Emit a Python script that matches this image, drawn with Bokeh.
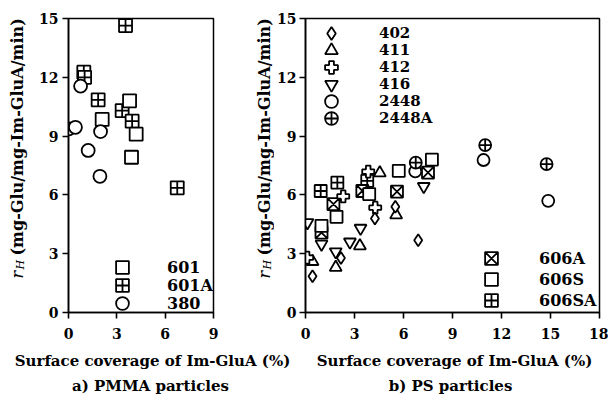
import math
from bokeh.plotting import figure
from bokeh.models import Range1d, Label, Legend, LegendItem, FixedTicker
from bokeh.layouts import row, column
from bokeh.embed import file_html
from bokeh.resources import INLINE

# ---------------- data ----------------
# a) PMMA particles
pmma_601_x = [2.09, 3.79, 4.20, 3.91]
pmma_601_y = [9.85, 10.80, 9.10, 7.92]
pmma_601A_x = [3.54, 0.95, 1.00, 1.84, 3.33, 3.95, 6.75]
pmma_601A_y = [14.64, 12.26, 12.00, 10.85, 10.30, 9.76, 6.36]
pmma_380_x = [0.02, 0.43, 0.75, 1.22, 1.99, 1.95]
pmma_380_y = [9.37, 9.45, 11.55, 8.27, 9.23, 6.95]

# b) PS particles
ps_402_x = [0.43, 2.17, 4.25, 5.50, 6.90]
ps_402_y = [1.85, 2.78, 4.80, 5.40, 3.69]
ps_411_x = [0.43, 1.85, 3.33, 4.55, 5.55]
ps_411_y = [2.60, 2.30, 3.40, 7.12, 4.98]
ps_412_x = [0.10, 2.31, 3.84, 4.27]
ps_412_y = [2.80, 5.92, 7.19, 5.35]
ps_416_x = [0.12, 0.98, 1.85, 2.72, 3.37, 7.24]
ps_416_y = [4.59, 3.49, 3.10, 3.60, 4.30, 6.43]
ps_2448_x = [6.72, 10.90, 14.86]
ps_2448_y = [7.20, 7.78, 5.70]
ps_2448A_x = [6.75, 11.00, 14.76]
ps_2448A_y = [7.65, 8.54, 7.57]
ps_606A_x = [0.98, 1.71, 3.48, 5.60, 7.50]
ps_606A_y = [4.08, 5.53, 6.20, 6.17, 7.14]
ps_606S_x = [0.98, 1.90, 3.90, 5.71, 7.74]
ps_606S_y = [4.42, 4.88, 6.04, 7.23, 7.80]
ps_606SA_x = [0.93, 1.95, 3.78]
ps_606SA_y = [6.20, 6.63, 6.72]

y_ticks = [0, 3, 6, 9, 12, 15]
pmma_x_ticks = [0, 3, 6, 9]
ps_x_ticks = [0, 3, 6, 9, 12, 15, 18]

x_title = "Surface coverage of Im-GluA (%)"
y_title = "(mg-Glu/mg-Im-GluA/min)"
captions = ["a) PMMA particles", "b) PS particles"]

FONT = "DejaVu Serif"
ROW_H = 345
FRAME_TOP = 18
FRAME_BOTTOM = 312


def blank(width, height):
    p = figure(width=width, height=height, output_backend="svg", toolbar_location=None,
               x_range=Range1d(0, 1), y_range=Range1d(0, 1),
               x_axis_type=None, y_axis_type=None,
               min_border=0, min_border_left=0, min_border_right=0,
               min_border_top=0, min_border_bottom=0)
    p.grid.visible = False
    p.outline_line_color = None
    return p


def make_fig(width, xmax, xticks, border_left, border_right, ylab_standoff):
    p = figure(width=width, height=ROW_H, output_backend="svg", toolbar_location=None,
               x_range=Range1d(0, xmax), y_range=Range1d(0, 15),
               min_border_left=border_left, min_border_right=border_right,
               min_border_top=FRAME_TOP, min_border_bottom=ROW_H - FRAME_BOTTOM)
    p.grid.visible = False
    p.outline_line_color = "black"
    p.outline_line_width = 1.5
    p.outline_line_alpha = 1
    for ax in (p.xaxis, p.yaxis):
        ax.axis_line_width = 1.6
        ax.axis_line_color = "black"
        ax.major_tick_line_width = 1.6
        ax.major_tick_line_color = "black"
        ax.major_tick_in = 0
        ax.major_tick_out = 6
        ax.minor_tick_line_color = None
        ax.major_label_text_font = FONT
        ax.major_label_text_font_style = "bold"
        ax.major_label_text_font_size = "14px"
        ax.major_label_text_color = "black"
    p.xaxis.ticker = FixedTicker(ticks=xticks)
    p.yaxis.ticker = FixedTicker(ticks=y_ticks)
    p.xaxis.major_label_standoff = 9
    p.yaxis.major_label_standoff = ylab_standoff
    return p


def pts(p, xs, ys, marker, size):
    return p.scatter(xs, ys, marker=marker, size=size, fill_color="white",
                     line_color="black", line_width=1.8)


def ylabel_fig(width, xc):
    # a narrow canvas holding the rotated y title (x from left, y from bottom)
    p = blank(width, ROW_H)
    yb = ROW_H - FRAME_BOTTOM
    p.add_layout(Label(x=xc, y=yb + 1, x_units="screen", y_units="screen", text="r",
                       angle=math.pi / 2, text_align="left", text_baseline="middle",
                       text_font=FONT, text_font_style="italic", text_font_size="16px",
                       text_color="black"))
    p.add_layout(Label(x=xc + 3, y=yb + 10, x_units="screen", y_units="screen", text="H",
                       angle=math.pi / 2, text_align="left", text_baseline="middle",
                       text_font=FONT, text_font_style="italic", text_font_size="11px",
                       text_color="black"))
    p.add_layout(Label(x=xc, y=yb + 24, x_units="screen", y_units="screen", text=y_title,
                       angle=math.pi / 2, text_align="left", text_baseline="middle",
                       text_font=FONT, text_font_style="bold", text_font_size="16px",
                       text_color="black"))
    return p


def add_legend(p, entries, glyph_left, first_center, pitch, standoff, fsize):
    # one Legend per entry, positioned relative to the frame (x from left, y from bottom)
    for i, (lab, r) in enumerate(entries):
        center = first_center + i * pitch          # page y of the row centre
        bottom = FRAME_BOTTOM - (center + 16)      # frame-relative bottom of a 32px box
        p.add_layout(Legend(items=[LegendItem(label=lab, renderers=[r])],
                            location=(glyph_left, bottom), orientation="vertical",
                            glyph_width=32, glyph_height=32, label_height=32, spacing=0,
                            padding=0, margin=0, label_standoff=standoff,
                            border_line_color=None, background_fill_alpha=0,
                            label_text_font=FONT, label_text_font_style="bold",
                            label_text_font_size=fsize, label_text_color="black"))


# ---------------- panel a ----------------
yl1 = ylabel_fig(28, 17)
p1 = make_fig(226, 9, pmma_x_ticks, 40, 41, 4)
r601A = pts(p1, pmma_601A_x, pmma_601A_y, "square_cross", 13)
r601 = pts(p1, pmma_601_x, pmma_601_y, "square", 13)
r380 = pts(p1, pmma_380_x, pmma_380_y, "circle", 13)
add_legend(p1, [("601", r601), ("601A", r601A), ("380", r380)], 38, 267, 18, 29, "16px")

# ---------------- panel b ----------------
yl2 = ylabel_fig(20, 9.5)
p2 = make_fig(334, 18, ps_x_ticks, 30, 9, 3)
r606SA = pts(p2, ps_606SA_x, ps_606SA_y, "square_cross", 12)
r606A = pts(p2, ps_606A_x, ps_606A_y, "square_x", 12)
r606S = pts(p2, ps_606S_x, ps_606S_y, "square", 12)
r416 = pts(p2, ps_416_x, ps_416_y, "inverted_triangle", 12)
r411 = pts(p2, ps_411_x, ps_411_y, "triangle", 12)
r412 = pts(p2, ps_412_x, ps_412_y, "plus", 12)
r402 = pts(p2, ps_402_x, ps_402_y, "diamond", 12)
r2448 = pts(p2, ps_2448_x, ps_2448_y, "circle", 12)
r2448A = pts(p2, ps_2448A_x, ps_2448A_y, "circle_cross", 12)
add_legend(p2, [("402", r402), ("411", r411), ("412", r412), ("416", r416),
                ("2448", r2448), ("2448A", r2448A)], 10, 33, 17, 32, "15px")
add_legend(p2, [("606A", r606A), ("606S", r606S), ("606SA", r606SA)],
           170, 258, 21, 32, "16px")

# ---------------- captions ----------------
CAP_H = 394 - ROW_H
p3 = blank(608, CAP_H)
for txt, xs, ys in [(x_title, 152, CAP_H - 15), (x_title, 454, CAP_H - 15),
                    (captions[0], 150, 9), (captions[1], 450, 9)]:
    p3.add_layout(Label(x=xs, y=ys, x_units="screen", y_units="screen", text=txt,
                        text_align="center", text_baseline="middle",
                        text_font=FONT, text_font_style="bold", text_font_size="15px",
                        text_color="black"))

layout = column(row(yl1, p1, yl2, p2), p3)
open("out.html", "w").write(file_html(layout, INLINE))
